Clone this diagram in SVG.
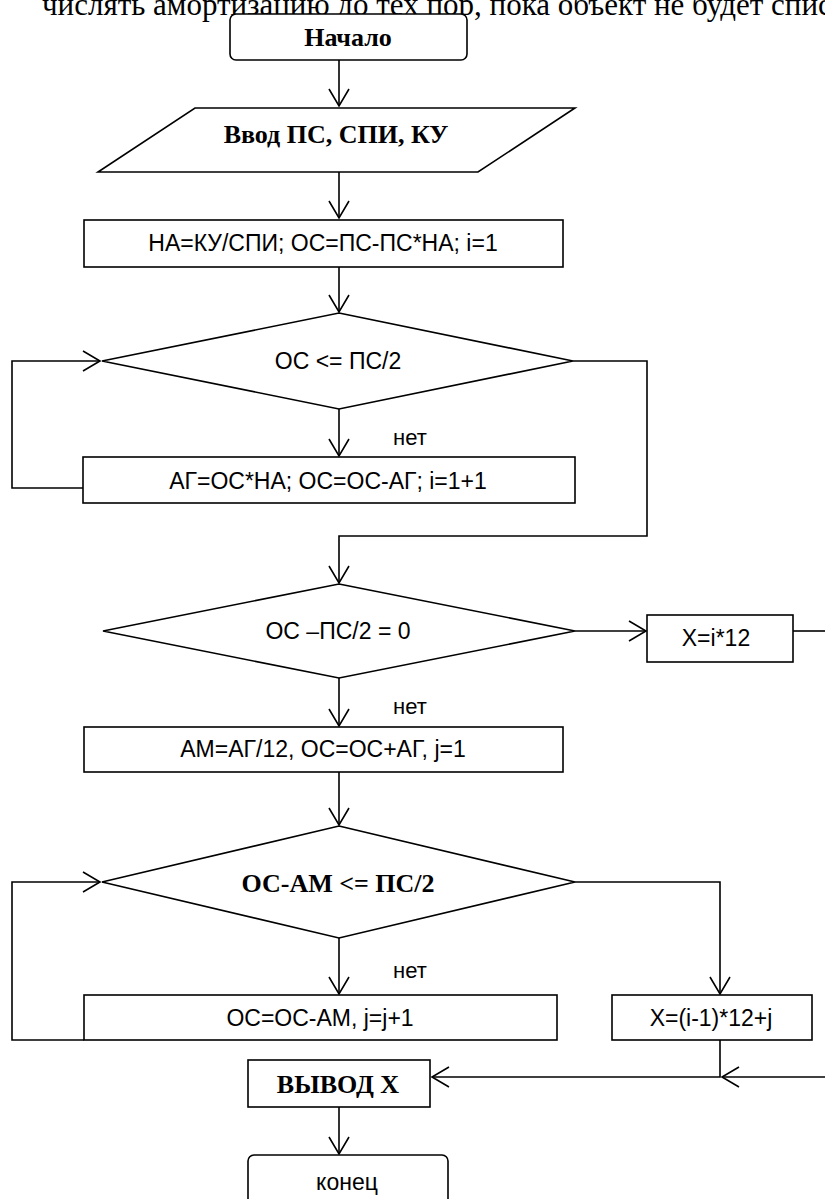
<svg xmlns="http://www.w3.org/2000/svg" width="825" height="1199" viewBox="0 0 825 1199">
<defs>
<style>
.s{fill:#fff;stroke:#000;stroke-width:1.6}
.c{fill:none;stroke:#000;stroke-width:1.6}
.t{font-family:"Liberation Sans",Arial,sans-serif;font-size:23px;fill:#000;text-anchor:middle}
.b{font-family:"Liberation Serif","Times New Roman",serif;font-weight:bold;font-size:26px;fill:#000;text-anchor:middle}
.l{font-family:"Liberation Sans",Arial,sans-serif;font-size:22px;fill:#000}
</style>
<marker id="a" viewBox="0 0 20 22" markerWidth="20" markerHeight="22" refX="18" refY="11" orient="auto" markerUnits="userSpaceOnUse">
<path d="M1,1 L18,11 L1,21" fill="none" stroke="#000" stroke-width="1.6"/>
</marker>
</defs>
<rect width="825" height="1199" fill="#fff"/>
<text x="42" y="15" font-family="Liberation Serif,serif" font-size="31" fill="#000">числять амортизацию до тех пор, пока объект не будет спис</text>
<g id="connectors">
<path class="c" d="M339,60 V106" marker-end="url(#a)"/>
<path class="c" d="M339,172 V218" marker-end="url(#a)"/>
<path class="c" d="M339,267 V312" marker-end="url(#a)"/>
<path class="c" d="M339,409 V456" marker-end="url(#a)"/>
<path class="c" d="M83,488 H12 V361 H100" marker-end="url(#a)"/>
<path class="c" d="M573,361 H647 V536 H339 V583" marker-end="url(#a)"/>
<path class="c" d="M575,631 H646" marker-end="url(#a)"/>
<path class="c" d="M793,631 H825"/>
<path class="c" d="M339,678 V726" marker-end="url(#a)"/>
<path class="c" d="M339,772 V825" marker-end="url(#a)"/>
<path class="c" d="M339,938 V994" marker-end="url(#a)"/>
<path class="c" d="M84,1040 H12 V882 H100" marker-end="url(#a)"/>
<path class="c" d="M575,882 H720 V994" marker-end="url(#a)"/>
<path class="c" d="M720,1040 V1077 H432" marker-end="url(#a)"/>
<path class="c" d="M825,1077 H722" marker-end="url(#a)"/>
<path class="c" d="M339,1107 V1154" marker-end="url(#a)"/>
</g>
<g id="start"><rect class="s" x="230" y="14" width="237" height="46" rx="6"/><text class="b" x="348" y="46">Начало</text></g>
<g id="input"><polygon class="s" points="195,108 575,108 478,172 98,172"/><text class="b" x="336" y="143">Ввод ПС, СПИ, КУ</text></g>
<g id="calc1"><rect class="s" x="84" y="220" width="479" height="47"/><text class="t" x="323" y="251">НА=КУ/СПИ; ОС=ПС-ПС*НА; i=1</text></g>
<g id="cond1"><polygon class="s" points="339,313 573,361 339,409 102,361"/><text class="t" x="338" y="369">ОС &lt;= ПС/2</text></g>
<text class="l" x="393" y="445">нет</text>
<g id="calc2"><rect class="s" x="83" y="457" width="492" height="46"/><text class="t" x="328" y="489">АГ=ОС*НА; ОС=ОС-АГ; i=1+1</text></g>
<g id="cond2"><polygon class="s" points="339,584 575,631 339,678 103,631"/><text class="t" x="338" y="639">ОС –ПС/2 = 0</text></g>
<g id="xi12"><rect class="s" x="647" y="615" width="146" height="47"/><text class="t" x="716" y="646">X=i*12</text></g>
<text class="l" x="393" y="714">нет</text>
<g id="calc3"><rect class="s" x="84" y="727" width="479" height="45"/><text class="t" x="323" y="757">АМ=АГ/12, ОС=ОС+АГ, j=1</text></g>
<g id="cond3"><polygon class="s" points="339,826 575,882 339,938 102,882"/><text class="b" x="338" y="892">ОС-АМ &lt;= ПС/2</text></g>
<text class="l" x="393" y="978">нет</text>
<g id="calc4"><rect class="s" x="84" y="995" width="473" height="45"/><text class="t" x="320" y="1026">ОС=ОС-АМ, j=j+1</text></g>
<g id="xcalc"><rect class="s" x="612" y="995" width="200" height="45"/><text class="t" x="711" y="1026">X=(i-1)*12+j</text></g>
<g id="output"><rect class="s" x="248" y="1060" width="182" height="47"/><text class="b" x="338" y="1093">ВЫВОД X</text></g>
<g id="end"><rect class="s" x="248" y="1155" width="200" height="52" rx="6"/><text class="t" x="347" y="1190">конец</text></g>
</svg>
